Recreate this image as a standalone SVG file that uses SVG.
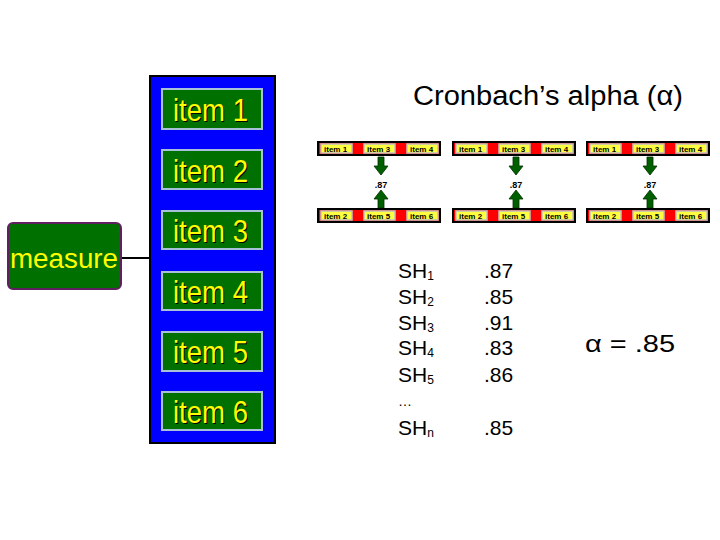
<svg xmlns="http://www.w3.org/2000/svg" width="720" height="540" viewBox="0 0 720 540">
<style>
.item rect{fill:#007000;stroke:#a8c0d8;stroke-width:2}
.itxt{font-family:"Liberation Sans",Arial,sans-serif;font-size:32px;fill:#ffff00}
.ish{font-family:"Liberation Sans",Arial,sans-serif;font-size:32px;fill:#000000}
.t{font-family:"Liberation Sans",Arial,sans-serif;fill:#000}
.bar{fill:#ff0000;stroke:#000;stroke-width:2}
.cell{fill:#ffff40;stroke:#c0c0c0;stroke-width:1.5}
.ctxt{font-family:"Liberation Sans",Arial,sans-serif;font-size:8px;font-weight:bold;fill:#000}
.arr{fill:#006000;stroke:#003000;stroke-width:0.8}
.sm{font-family:"Liberation Sans",Arial,sans-serif;font-size:9px;font-weight:bold;fill:#000}
</style>
<defs>
<g id="bar">
<rect class="bar" x="0" y="0" width="122" height="13"/>
<rect class="cell" x="3" y="2" width="31" height="9"/>
<rect class="cell" x="46" y="2" width="31" height="9"/>
<rect class="cell" x="89" y="2" width="31" height="9"/>
</g>
<path id="adown" d="M-3,0 H3 V9 H7 L0,18 L-7,9 H-3 Z"/>
</defs>
<rect width="720" height="540" fill="#ffffff"/>

<g id="connectors">
<line x1="121" y1="258" x2="149" y2="258" stroke="#000" stroke-width="2"/>
</g>

<g id="measure">
<rect x="8" y="223" width="113" height="66" rx="5" fill="#007000" stroke="#602060" stroke-width="2"/>
<text x="10" y="268" font-family="Liberation Sans, Arial, sans-serif" font-size="27" fill="#ffff00" textLength="108" lengthAdjust="spacingAndGlyphs">measure</text>
</g>

<g id="panel">
<rect x="150" y="76" width="125" height="367" fill="#0000ff" stroke="#000" stroke-width="2"/>
</g>

<g id="item1" class="item"><rect x="162" y="89" width="100" height="40"/>
<text class="ish" x="174" y="122" textLength="75" lengthAdjust="spacingAndGlyphs">item 1</text>
<text class="itxt" x="173" y="121" textLength="75" lengthAdjust="spacingAndGlyphs">item 1</text></g>
<g id="item2" class="item"><rect x="162" y="150" width="100" height="39"/>
<text class="ish" x="174" y="183" textLength="75" lengthAdjust="spacingAndGlyphs">item 2</text>
<text class="itxt" x="173" y="182" textLength="75" lengthAdjust="spacingAndGlyphs">item 2</text></g>
<g id="item3" class="item"><rect x="162" y="211" width="100" height="38"/>
<text class="ish" x="174" y="243" textLength="75" lengthAdjust="spacingAndGlyphs">item 3</text>
<text class="itxt" x="173" y="242" textLength="75" lengthAdjust="spacingAndGlyphs">item 3</text></g>
<g id="item4" class="item"><rect x="162" y="272" width="100" height="38"/>
<text class="ish" x="174" y="304" textLength="75" lengthAdjust="spacingAndGlyphs">item 4</text>
<text class="itxt" x="173" y="303" textLength="75" lengthAdjust="spacingAndGlyphs">item 4</text></g>
<g id="item5" class="item"><rect x="162" y="332" width="100" height="39"/>
<text class="ish" x="174" y="364" textLength="75" lengthAdjust="spacingAndGlyphs">item 5</text>
<text class="itxt" x="173" y="363" textLength="75" lengthAdjust="spacingAndGlyphs">item 5</text></g>
<g id="item6" class="item"><rect x="162" y="392" width="100" height="38"/>
<text class="ish" x="174" y="424" textLength="75" lengthAdjust="spacingAndGlyphs">item 6</text>
<text class="itxt" x="173" y="423" textLength="75" lengthAdjust="spacingAndGlyphs">item 6</text></g>

<g id="title">
<text class="t" x="413" y="105" font-size="27" textLength="270" lengthAdjust="spacingAndGlyphs">Cronbach’s alpha (α)</text>
</g>

<g id="split1" transform="translate(318,142)">
<use href="#bar"/>
<text class="ctxt" x="6" y="10">item 1</text><text class="ctxt" x="49" y="10">item 3</text><text class="ctxt" x="92" y="10">item 4</text>
<use href="#adown" class="arr" x="63" y="15"/>
<text class="sm" x="63" y="46" text-anchor="middle">.87</text>
<use href="#adown" class="arr" transform="translate(63,66) scale(1,-1)"/>
<use href="#bar" y="67"/>
<text class="ctxt" x="6" y="77">item 2</text><text class="ctxt" x="49" y="77">item 5</text><text class="ctxt" x="92" y="77">item 6</text>
</g>
<g id="split2" transform="translate(453,142)">
<use href="#bar"/>
<text class="ctxt" x="6" y="10">item 1</text><text class="ctxt" x="49" y="10">item 3</text><text class="ctxt" x="92" y="10">item 4</text>
<use href="#adown" class="arr" x="63" y="15"/>
<text class="sm" x="63" y="46" text-anchor="middle">.87</text>
<use href="#adown" class="arr" transform="translate(63,66) scale(1,-1)"/>
<use href="#bar" y="67"/>
<text class="ctxt" x="6" y="77">item 2</text><text class="ctxt" x="49" y="77">item 5</text><text class="ctxt" x="92" y="77">item 6</text>
</g>
<g id="split3" transform="translate(587,142)">
<use href="#bar"/>
<text class="ctxt" x="6" y="10">item 1</text><text class="ctxt" x="49" y="10">item 3</text><text class="ctxt" x="92" y="10">item 4</text>
<use href="#adown" class="arr" x="63" y="15"/>
<text class="sm" x="63" y="46" text-anchor="middle">.87</text>
<use href="#adown" class="arr" transform="translate(63,66) scale(1,-1)"/>
<use href="#bar" y="67"/>
<text class="ctxt" x="6" y="77">item 2</text><text class="ctxt" x="49" y="77">item 5</text><text class="ctxt" x="92" y="77">item 6</text>
</g>

<g id="list" class="t" font-size="21">
<text x="398" y="278">SH<tspan font-size="12" dy="2">1</tspan></text>
<text x="398" y="304">SH<tspan font-size="12" dy="2">2</tspan></text>
<text x="398" y="330">SH<tspan font-size="12" dy="2">3</tspan></text>
<text x="398" y="355">SH<tspan font-size="12" dy="2">4</tspan></text>
<text x="398" y="382">SH<tspan font-size="12" dy="2">5</tspan></text>
<text x="398" y="406" font-size="14">…</text>
<text x="398" y="435">SH<tspan font-size="12" dy="2">n</tspan></text>
<text x="484" y="278">.87</text>
<text x="484" y="304">.85</text>
<text x="484" y="330">.91</text>
<text x="484" y="355">.83</text>
<text x="484" y="382">.86</text>
<text x="484" y="435">.85</text>
</g>

<g id="result">
<text class="t" x="585" y="352" font-size="24" textLength="90" lengthAdjust="spacingAndGlyphs">α = .85</text>
</g>
</svg>
